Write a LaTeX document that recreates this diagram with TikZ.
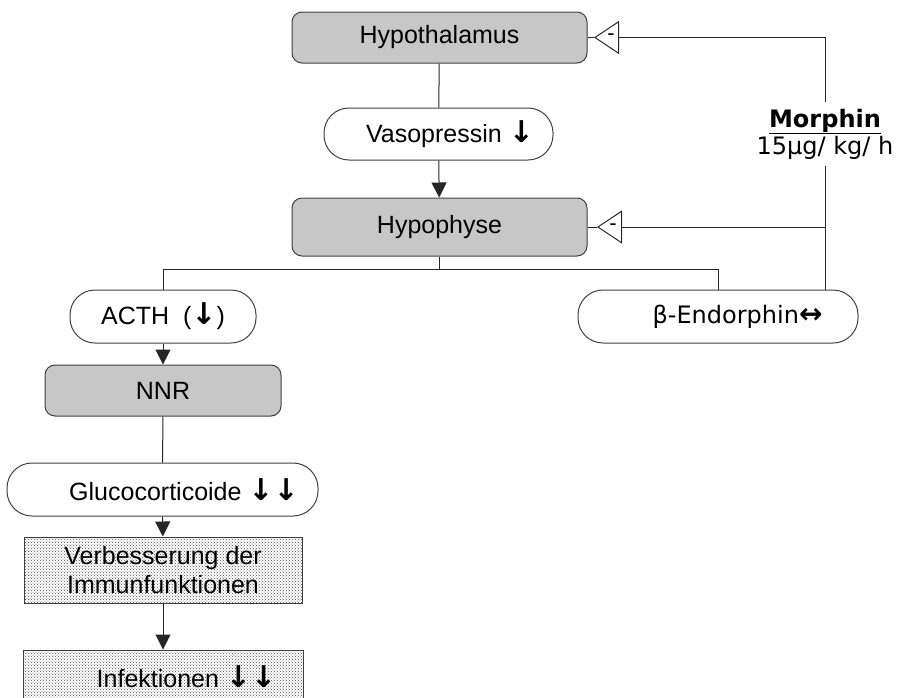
\documentclass[tikz,border=0pt]{standalone}
\usepackage{fontspec}
\setmainfont{Liberation Sans}
\newfontfamily\verdana{DejaVu Sans}
\usetikzlibrary{arrows.meta,patterns}

% small arrows inside the labels
\newcommand{\dn}{{\verdana\bfseries\fontsize{30}{30}\selectfont ↓}}
\newcommand{\lr}{{\verdana\bfseries\fontsize{28}{28}\selectfont ↔}}

\tikzset{
  base/.style={draw=black!75, line width=1pt, inner sep=0pt, font=\fontsize{25}{29}\selectfont},
  organ/.style={base, fill=black!22, rounded corners=10pt, minimum width=295pt},
  pill/.style={base, rounded corners=25pt},
  dotbox/.style={base, pattern=crosshatch dots, pattern color=black!70, align=center},
  conn/.style={draw=black!85, line width=1pt},
  arr/.style={conn, -{Triangle[length=15pt,width=15pt]}},
  inhib/.style={conn, -{Triangle[open,length=25pt,width=33pt]}},
}

\begin{document}
\begin{tikzpicture}[x=1pt,y=-1pt]
\useasboundingbox (0,0) rectangle (905,697);

\node[organ, minimum height=51pt] (hypothal) at (439.5,37.5) {Hypothalamus};
\node[pill, minimum width=229pt, minimum height=52pt] (vaso) at (438.5,134) {\hspace*{23pt}Vasopressin \dn};
\node[organ, minimum height=58pt] (hypoph) at (439.5,227) {Hypophyse};
\node[pill, minimum width=186pt, minimum height=53pt] (acth) at (163,316.5) {ACTH\ \ (\dn)};
\node[pill, minimum width=280pt, minimum height=53pt, font=\verdana\fontsize{24}{28}\selectfont] (endo) at (718,316.5) {\hspace*{39pt}β-Endorphin\lr};
\node[organ, minimum width=236pt, minimum height=51pt] (nnr) at (163,390.5) {NNR};
\node[pill, minimum width=311pt, minimum height=53pt] (gluco) at (162.5,489.5) {\hspace*{43pt}Glucocorticoide \dn\dn};
\node[dotbox, minimum width=278pt, minimum height=66pt] (verb) at (163,570) {Verbesserung der\\Immunfunktionen};
\node[dotbox, minimum width=280pt, minimum height=54pt] (infekt) at (163,677) {\hspace*{47pt}Infektionen \dn\dn};

\node[font=\verdana\fontsize{24}{27}\selectfont, align=center, inner xsep=0pt, inner ysep=6.5pt] (morph) at (825,134) {\textbf{\underline{Morphin}}\\15µg/ kg/ h};

\coordinate (split) at (439.5,269);
\coordinate (mtop) at (825,37.5);
\coordinate (tiphyp) at (594,37.5);
\coordinate (tiphph) at (597,227);

\draw[conn] (hypothal) -- (vaso);
\draw[arr] (vaso) -- (hypoph);
\draw[conn] (hypoph) -- (split);
\draw[conn] (split) -| (acth.north);
\draw[conn] (split) -| (endo.north);
\draw[arr] (acth) -- (nnr);
\draw[conn] (nnr) -- (gluco);
\draw[arr] (gluco) -- (verb);
\draw[arr] (verb) -- (infekt);

% Morphin feedback
\draw[inhib] (morph.north) -- (mtop) -- (tiphyp);
\draw[conn] (tiphyp) -- (hypothal.east);
\draw[conn] (morph.south) -- (morph.south |- endo.north);
\draw[inhib] (morph.south |- hypoph.east) -- (tiphph);
\draw[conn] (tiphph) -- (hypoph.east);
\node[font=\fontsize{22}{22}\selectfont, inner sep=0pt] (minusa) at (611,37.5) {-};
\node[font=\fontsize{22}{22}\selectfont, inner sep=0pt] (minusb) at (613,227) {-};
\end{tikzpicture}
\end{document}
